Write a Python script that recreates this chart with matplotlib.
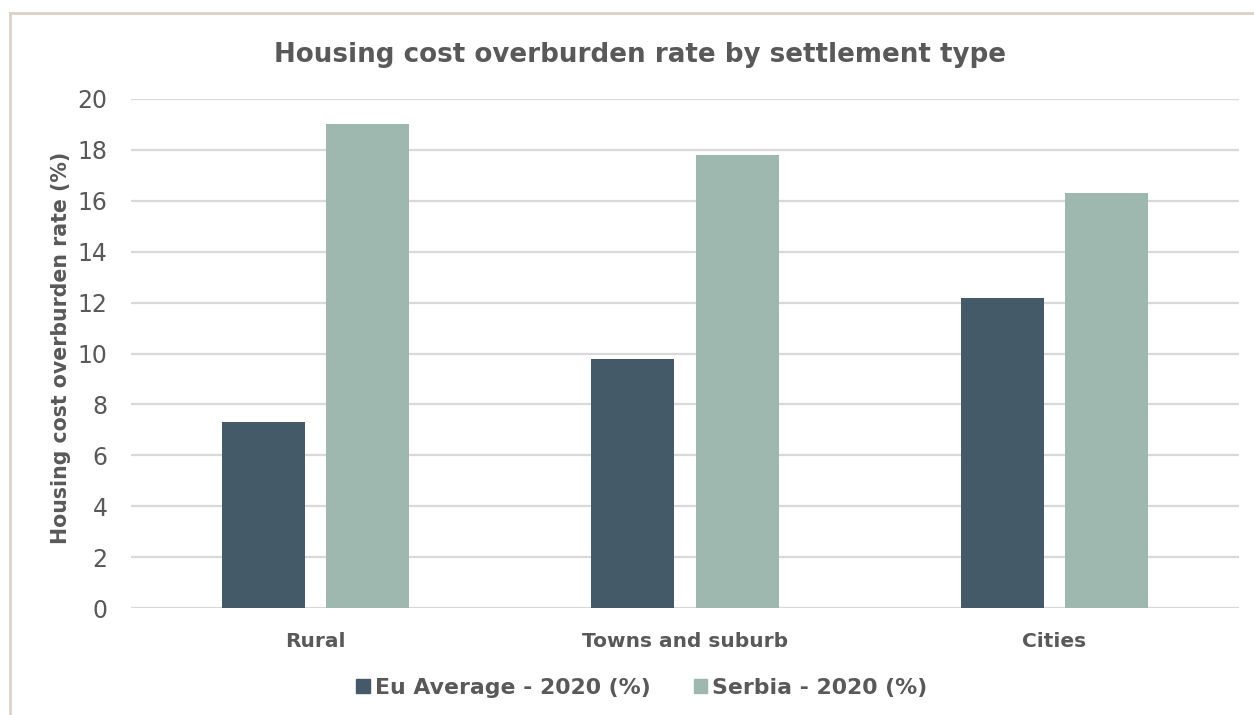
import numpy as np
import matplotlib.pyplot as plt
from matplotlib.patches import Patch
from matplotlib.lines import Line2D

# housing cost overburden rate (%), 2020
categories = ["Rural", "Towns and suburb", "Cities"]
eu_average = [7.3, 9.8, 12.2]
serbia = [19.0, 17.8, 16.3]
series_names = ["Eu Average - 2020 (%)", "Serbia - 2020 (%)"]
y_ticks = [0, 2, 4, 6, 8, 10, 12, 14, 16, 18, 20]

EU_COLOR = "#445a68"
SRB_COLOR = "#9eb8af"
TEXT = "#595959"
GRID = "#d9d9d9"

W, H = 1254, 715
fig = plt.figure(figsize=(W / 100, H / 100), dpi=100)
fig.patch.set_facecolor("white")

# chart frame (only left/top edges fall inside the image)
frame = "#d9d2c6"
fig.add_artist(Line2D([10 / W, 10 / W], [0, 1 - 13 / H], color=frame, lw=2))
fig.add_artist(Line2D([10 / W, 1], [1 - 13 / H, 1 - 13 / H], color=frame, lw=2))

left, right, top, bottom = 131, 1239, 99, 608
ax = fig.add_axes([left / W, 1 - bottom / H, (right - left) / W, (bottom - top) / H])

x = np.arange(len(categories))
bw = 0.2246
off = 0.1414
ax.bar(x - off, eu_average, bw, color=EU_COLOR, zorder=3)
ax.bar(x + off, serbia, bw, color=SRB_COLOR, zorder=3)

ax.set_xlim(-0.5, len(categories) - 0.5)
ax.set_ylim(0, 20)
ax.set_yticks(y_ticks)
ax.set_xticks(x)
ax.set_xticklabels(categories, fontsize=14.5, fontweight="bold", color=TEXT)
ax.tick_params(axis="y", length=0, pad=17, labelsize=17, labelcolor=TEXT)
ax.tick_params(axis="x", length=0, pad=17)
ax.yaxis.grid(True, color=GRID, lw=1.6, zorder=0)
for s in ax.spines.values():
    s.set_visible(False)

ax.set_ylabel("Housing cost overburden rate (%)", fontsize=14.8, fontweight="bold", color=TEXT)
ax.yaxis.set_label_coords((71 - left) / (right - left), (608 - 347.5) / (bottom - top))

fig.text(640 / W, 1 - 55 / H, "Housing cost overburden rate by settlement type",
         ha="center", va="center", fontsize=18.8, fontweight="bold", color=TEXT)

handles = [Patch(color=EU_COLOR), Patch(color=SRB_COLOR)]
leg = fig.legend(handles, series_names, loc="center", ncol=2,
                 bbox_to_anchor=(642 / W, 1 - 688 / H), frameon=False,
                 handlelength=0.6, handleheight=0.6, handletextpad=0.25,
                 columnspacing=1.95, prop={"size": 15.8, "weight": "bold"})
for t in leg.get_texts():
    t.set_color(TEXT)

fig.savefig("out.png", dpi=100)
